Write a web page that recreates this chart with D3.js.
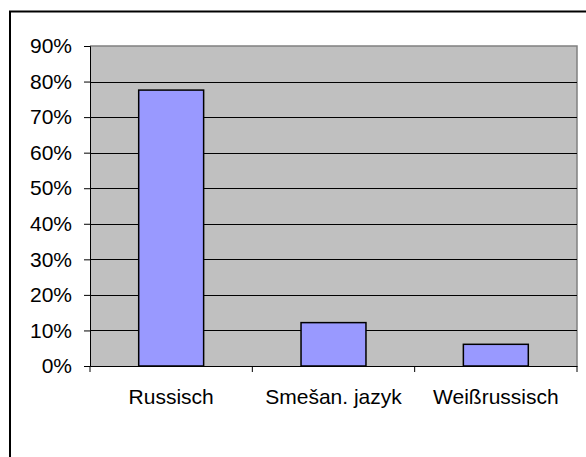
<!DOCTYPE html>
<html><head><meta charset="utf-8">
<script src="https://cdn.jsdelivr.net/npm/d3@7"></script>
<style>html,body{margin:0;padding:0;background:#fff;overflow:hidden}</style>
</head><body>
<script>
const categories = ["Russisch", "Smešan. jazyk", "Weißrussisch"];
const values = [0.776, 0.122, 0.061];
const yTicks = [0, 0.1, 0.2, 0.3, 0.4, 0.5, 0.6, 0.7, 0.8, 0.9];

const W = 586, H = 457;
const svg = d3.select("body").append("svg").attr("width", W).attr("height", H);
svg.append("rect").attr("width", W).attr("height", H).attr("fill", "#fff");
// outer chart frame (extends beyond the visible window right and bottom)
svg.append("path").attr("d", "M10,470 L10,11.5 L600,11.5").attr("fill", "none")
  .attr("stroke", "#000").attr("stroke-width", 2);

const m = {l: 90, t: 46, r: 577, b: 366};
const x = d3.scaleBand().domain(categories).range([m.l, m.r]).paddingInner(0).paddingOuter(0);
const y = d3.scaleLinear().domain([0, 0.9]).range([m.b, m.t]);

svg.append("rect").attr("x", m.l).attr("y", m.t).attr("width", m.r - m.l).attr("height", m.b - m.t)
  .attr("fill", "#c0c0c0");
// plot border top/right
svg.append("path").attr("d", `M${m.l},${m.t} L${m.r},${m.t} L${m.r},${m.b}`)
  .attr("fill", "none").attr("stroke", "#808080").attr("stroke-width", 1.5);

// gridlines
svg.append("g").selectAll("line").data(yTicks.filter(d => d > 0 && d < 0.9)).join("line")
  .attr("x1", m.l).attr("x2", m.r)
  .attr("y1", d => Math.round(y(d)) + 0.5).attr("y2", d => Math.round(y(d)) + 0.5)
  .attr("stroke", "#000").attr("stroke-width", 1);

// bars
const bw = x.bandwidth() * 0.4;
svg.append("g").selectAll("rect").data(values).join("rect")
  .attr("x", (d, i) => x(categories[i]) + (x.bandwidth() - bw) / 2)
  .attr("y", d => y(d))
  .attr("width", bw)
  .attr("height", d => y(0) - y(d))
  .attr("fill", "#9999ff").attr("stroke", "#000").attr("stroke-width", 1.5);

// y axis
const yAxis = d3.axisLeft(y).tickValues(yTicks).tickSize(6).tickPadding(12)
  .tickFormat(d3.format(".0%"));
const gy = svg.append("g").attr("transform", `translate(${m.l},0)`).call(yAxis);
gy.select(".domain").attr("stroke", "#000").attr("stroke-width", 1);
gy.selectAll(".tick line").attr("stroke", "#000");
gy.selectAll("text").attr("font-family", "Liberation Sans, Arial, sans-serif")
  .attr("font-size", 21).attr("fill", "#000");

// x axis
const xAxis = d3.axisBottom(x).tickSize(0).tickPadding(23);
const gx = svg.append("g").attr("transform", `translate(0,${m.b})`).call(xAxis);
gx.select(".domain").attr("stroke", "#000").attr("stroke-width", 1);
gx.selectAll("text").attr("font-family", "Liberation Sans, Arial, sans-serif")
  .attr("font-size", 21).attr("fill", "#000");
// category boundary ticks
const bounds = categories.map(c => x(c)).concat([m.r]);
gx.append("g").selectAll("line").data(bounds).join("line")
  .attr("x1", d => d).attr("x2", d => d).attr("y1", 0).attr("y2", 6)
  .attr("stroke", "#000");
</script>
</body></html>
